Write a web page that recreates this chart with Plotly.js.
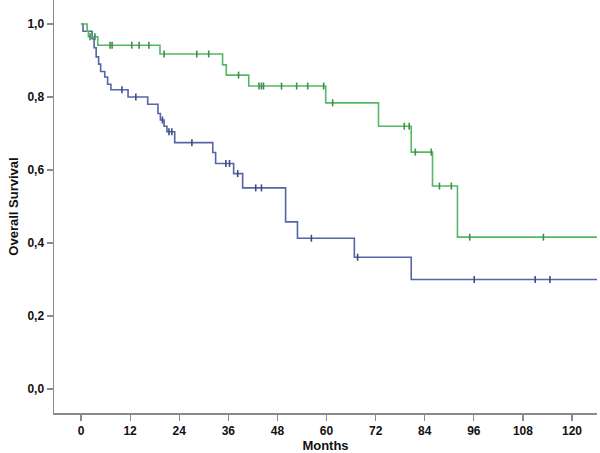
<!DOCTYPE html>
<html>
<head>
<meta charset="utf-8">
<script src="https://cdn.plot.ly/plotly-3.0.1.min.js"></script>
<style>html,body{margin:0;padding:0;background:#fff;}#chart{width:600px;height:453px;}</style>
</head>
<body>
<div id="chart"></div>
<script>
// Group A (green) Kaplan-Meier steps
const greenTimes = [0, 1.5, 1.8, 4.1, 19.3, 34.6, 35.5, 41, 59.8, 72.7, 80.7, 85.9, 92, 126.1];
const greenSurv  = [1.0, 0.98, 0.965, 0.942, 0.918, 0.888, 0.86, 0.83, 0.784, 0.72, 0.649, 0.556, 0.416, 0.416];
const greenCensorTimes = [2.2, 3.4, 7.1, 7.6, 12.4, 14.2, 16.6, 20.3, 28.3, 31.2, 38.5, 43.5, 44.1, 44.6, 49, 52.7, 55.4, 59.3, 61.5, 79, 80.2, 81.7, 85.6, 87.6, 90.5, 95, 113];
const greenCensorSurv  = [0.965, 0.965, 0.942, 0.942, 0.942, 0.942, 0.942, 0.918, 0.918, 0.918, 0.86, 0.83, 0.83, 0.83, 0.83, 0.83, 0.83, 0.83, 0.784, 0.72, 0.72, 0.649, 0.649, 0.556, 0.556, 0.416, 0.416];

// Group B (blue) Kaplan-Meier steps
const blueTimes = [0, 0.5, 2.7, 3.2, 3.7, 4.3, 4.8, 5.8, 6.5, 7.3, 11.5, 16.3, 18.8, 19.4, 20.3, 21.0, 22.9, 32.2, 32.9, 37.3, 39.5, 50, 52.9, 66.8, 80.7, 126.1];
const blueSurv  = [1.0, 0.98, 0.96, 0.935, 0.91, 0.89, 0.87, 0.855, 0.835, 0.82, 0.80, 0.78, 0.755, 0.737, 0.72, 0.705, 0.675, 0.648, 0.618, 0.59, 0.551, 0.458, 0.413, 0.361, 0.30, 0.30];
const blueCensorTimes = [10, 13.4, 19.9, 21.5, 22.2, 27.1, 35.4, 36.3, 38.3, 42.7, 44.1, 56.3, 67.6, 96.1, 111, 114.6];
const blueCensorSurv  = [0.82, 0.80, 0.737, 0.705, 0.705, 0.675, 0.618, 0.618, 0.59, 0.551, 0.551, 0.413, 0.361, 0.30, 0.30, 0.30];

const xTicks = [0, 12, 24, 36, 48, 60, 72, 84, 96, 108, 120];
const yTicks = [0, 0.2, 0.4, 0.6, 0.8, 1.0];

const greenLine = '#55b865';
const greenMark = '#3f8f4c';
const blueLine = '#5565a5';
const blueMark = '#3c4a88';

const traces = [
  {x: blueTimes, y: blueSurv, mode: 'lines', line: {shape: 'hv', color: blueLine, width: 1.6}, hoverinfo: 'skip'},
  {x: greenTimes, y: greenSurv, mode: 'lines', line: {shape: 'hv', color: greenLine, width: 1.6}, hoverinfo: 'skip'},
  {x: blueCensorTimes, y: blueCensorSurv, mode: 'markers', marker: {symbol: 'line-ns-open', size: 5, color: blueMark, line: {color: blueMark, width: 1.6}}},
  {x: greenCensorTimes, y: greenCensorSurv, mode: 'markers', marker: {symbol: 'line-ns-open', size: 5, color: greenMark, line: {color: greenMark, width: 1.6}}}
];

const fontFam = '"Liberation Sans", Arial, sans-serif';
const layout = {
  width: 600, height: 453,
  margin: {l: 54, r: 3, t: 0, b: 40},
  paper_bgcolor: '#fff', plot_bgcolor: '#fff',
  showlegend: false,
  separators: ',.',
  font: {family: fontFam, size: 12, color: '#111'},
  xaxis: {
    range: [-6.6, 126.1], tickvals: xTicks, ticktext: xTicks.map(String),
    showgrid: false, zeroline: false, showline: true, linecolor: '#8a8a8a', linewidth: 1.5,
    ticks: 'outside', ticklen: 6, tickwidth: 1.2, tickcolor: '#8a8a8a',
    tickfont: {family: fontFam, size: 12, color: '#111', weight: 'bold'},
    title: {text: '<b>Months</b>', font: {family: fontFam, size: 13, color: '#111'}, standoff: 4},
    automargin: false
  },
  yaxis: {
    range: [-0.0658, 1.0658], tickvals: yTicks, tickformat: '.1f',
    showgrid: false, zeroline: false, showline: true, linecolor: '#8a8a8a', linewidth: 1.5,
    ticks: 'outside', ticklen: 6, tickwidth: 1.2, tickcolor: '#8a8a8a',
    tickfont: {family: fontFam, size: 12, color: '#111', weight: 'bold'},
    title: {text: '<b>Overall Survival</b>', font: {family: fontFam, size: 13, color: '#111'}, standoff: 6},
    automargin: false
  }
};

Plotly.newPlot('chart', traces, layout, {staticPlot: true, displayModeBar: false});
</script>
</body>
</html>
